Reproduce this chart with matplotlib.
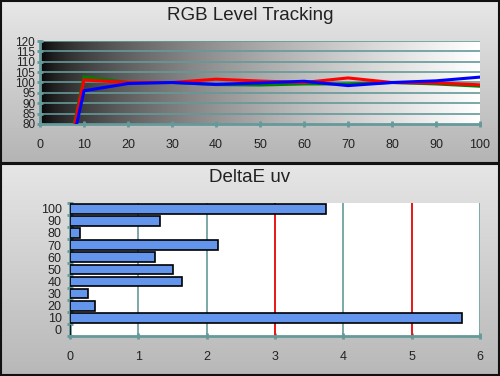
import numpy as np
import matplotlib
matplotlib.use("Agg")
import matplotlib.pyplot as plt
from matplotlib.patches import Rectangle

plt.rcParams['font.family'] = ['Liberation Sans', 'DejaVu Sans']

# ---- data ----
levels = [0, 10, 20, 30, 40, 50, 60, 70, 80, 90, 100]
red = [0, 101.2, 100, 100, 101.6, 100.7, 100.0, 102.2, 100, 99.8, 98.9]
green = [0, 102.7, 100, 100, 99.0, 98.8, 99.3, 99.3, 100, 99.3, 98.2]
blue = [0, 96.0, 99.5, 100, 99.1, 99.8, 100.6, 98.5, 100, 100.8, 102.6]

de_categories = ['0', '10', '20', '30', '40', '50', '60', '70', '80', '90', '100']
de_values = [0, 5.74, 0.37, 0.27, 1.64, 1.50, 1.25, 2.17, 0.14, 1.31, 3.74]

yticks_top = [80, 85, 90, 95, 100, 105, 110, 115, 120]
xticks_top = [0, 10, 20, 30, 40, 50, 60, 70, 80, 90, 100]
xticks_bot = [0, 1, 2, 3, 4, 5, 6]
limit_lines = [3, 5]

TEAL = '#669999'
W, H = 500, 376
fig = plt.figure(figsize=(5.0, 3.76), dpi=100)

# ---- background panels ----
bg = fig.add_axes([0, 0, 1, 1])
bg.axis('off')
grad = np.linspace(0, 1, 256)[:, None]
top_cmap = matplotlib.colors.LinearSegmentedColormap.from_list('t', ['#e8e8e8', '#b4b4b4'])
bot_cmap = matplotlib.colors.LinearSegmentedColormap.from_list('b', ['#e6e6e6', '#b8b8b8'])
bg.imshow(grad, cmap=top_cmap, extent=[0, W, 163, 0], aspect='auto', zorder=0)
bg.imshow(grad, cmap=bot_cmap, extent=[0, W, H, 163], aspect='auto', zorder=0)
bg.add_patch(Rectangle((0.5, 0.5), W - 1.5, 162.5, fill=False, ec='#111111', lw=1.5, zorder=2))
bg.add_patch(Rectangle((0.5, 163.5), W - 1.5, H - 165, fill=False, ec='#111111', lw=1.5, zorder=2))
bg.set_xlim(0, W)
bg.set_ylim(H, 0)

fig.text(0.5, 1 - 15 / H, 'RGB Level Tracking', ha='center', va='center', fontsize=13.5, color='#222222')
fig.text(0.5, 1 - 177 / H, 'DeltaE uv', ha='center', va='center', fontsize=13.5, color='#222222')

# ---- top chart ----
ax1 = fig.add_axes([40 / W, 1 - 124 / H, 440 / W, 83 / H])
ramp = np.linspace(0, 1, 512)[None, :] ** 0.6
ax1.imshow(ramp, cmap='gray', extent=[0, 100, 80, 120], aspect='auto', vmin=0, vmax=1, zorder=0)
for y in yticks_top[1:]:
    ax1.axhline(y, color=TEAL, lw=1.2, zorder=1)
ax1.plot(levels, red, color='#ff0000', lw=2.2, zorder=3, solid_joinstyle='miter')
ax1.plot(levels, green, color='#008000', lw=2.2, zorder=2, solid_joinstyle='miter')
ax1.plot(levels, blue, color='#0000ff', lw=2.2, zorder=4, solid_joinstyle='miter')
ax1.set_xlim(0, 100)
ax1.set_ylim(80, 120)
ax1.set_xticks(xticks_top)
ax1.set_yticks(yticks_top)
for s in ['top', 'right']:
    ax1.spines[s].set_visible(False)
for s in ['left', 'bottom']:
    ax1.spines[s].set_color(TEAL)
    ax1.spines[s].set_linewidth(2)
ax1.tick_params(axis='both', direction='inout', length=5, width=2, color=TEAL,
                labelsize=9, labelcolor='#222222')
ax1.tick_params(axis='y', labelsize=8.5, pad=1)
ax1.tick_params(axis='x', pad=8)

# ---- bottom chart ----
ax2 = fig.add_axes([70 / W, 1 - 336 / H, 410 / W, 133.3 / H])
ax2.set_facecolor('white')
pos = np.arange(len(de_categories))
for x in xticks_bot[1:]:
    ax2.axvline(x, color=TEAL, lw=1.2, zorder=1)
for x in limit_lines:
    ax2.axvline(x, color='#ff0000', lw=1.2, zorder=2)
ax2.barh(pos, de_values, height=0.8, color='#6495ed', edgecolor='black', lw=1.2, zorder=3)
ax2.set_xlim(0, 6)
ax2.set_ylim(-0.5, len(de_categories) - 0.5)
ax2.set_xticks(xticks_bot)
ax2.set_yticks(np.arange(len(de_categories) + 1) - 0.5, minor=False)
ax2.set_yticklabels([])
ax2.set_yticks(pos, minor=True)
ax2.set_yticklabels(de_categories, minor=True)
for s in ['top', 'right']:
    ax2.spines[s].set_visible(False)
for s in ['left', 'bottom']:
    ax2.spines[s].set_color(TEAL)
    ax2.spines[s].set_linewidth(2)
ax2.tick_params(axis='both', which='major', direction='inout', length=5, width=2, color=TEAL,
                labelsize=9, labelcolor='#222222')
ax2.tick_params(axis='y', which='minor', length=0, labelsize=9, labelcolor='#222222', pad=6)
ax2.tick_params(axis='x', pad=8)

fig.savefig('out.png', dpi=100)
